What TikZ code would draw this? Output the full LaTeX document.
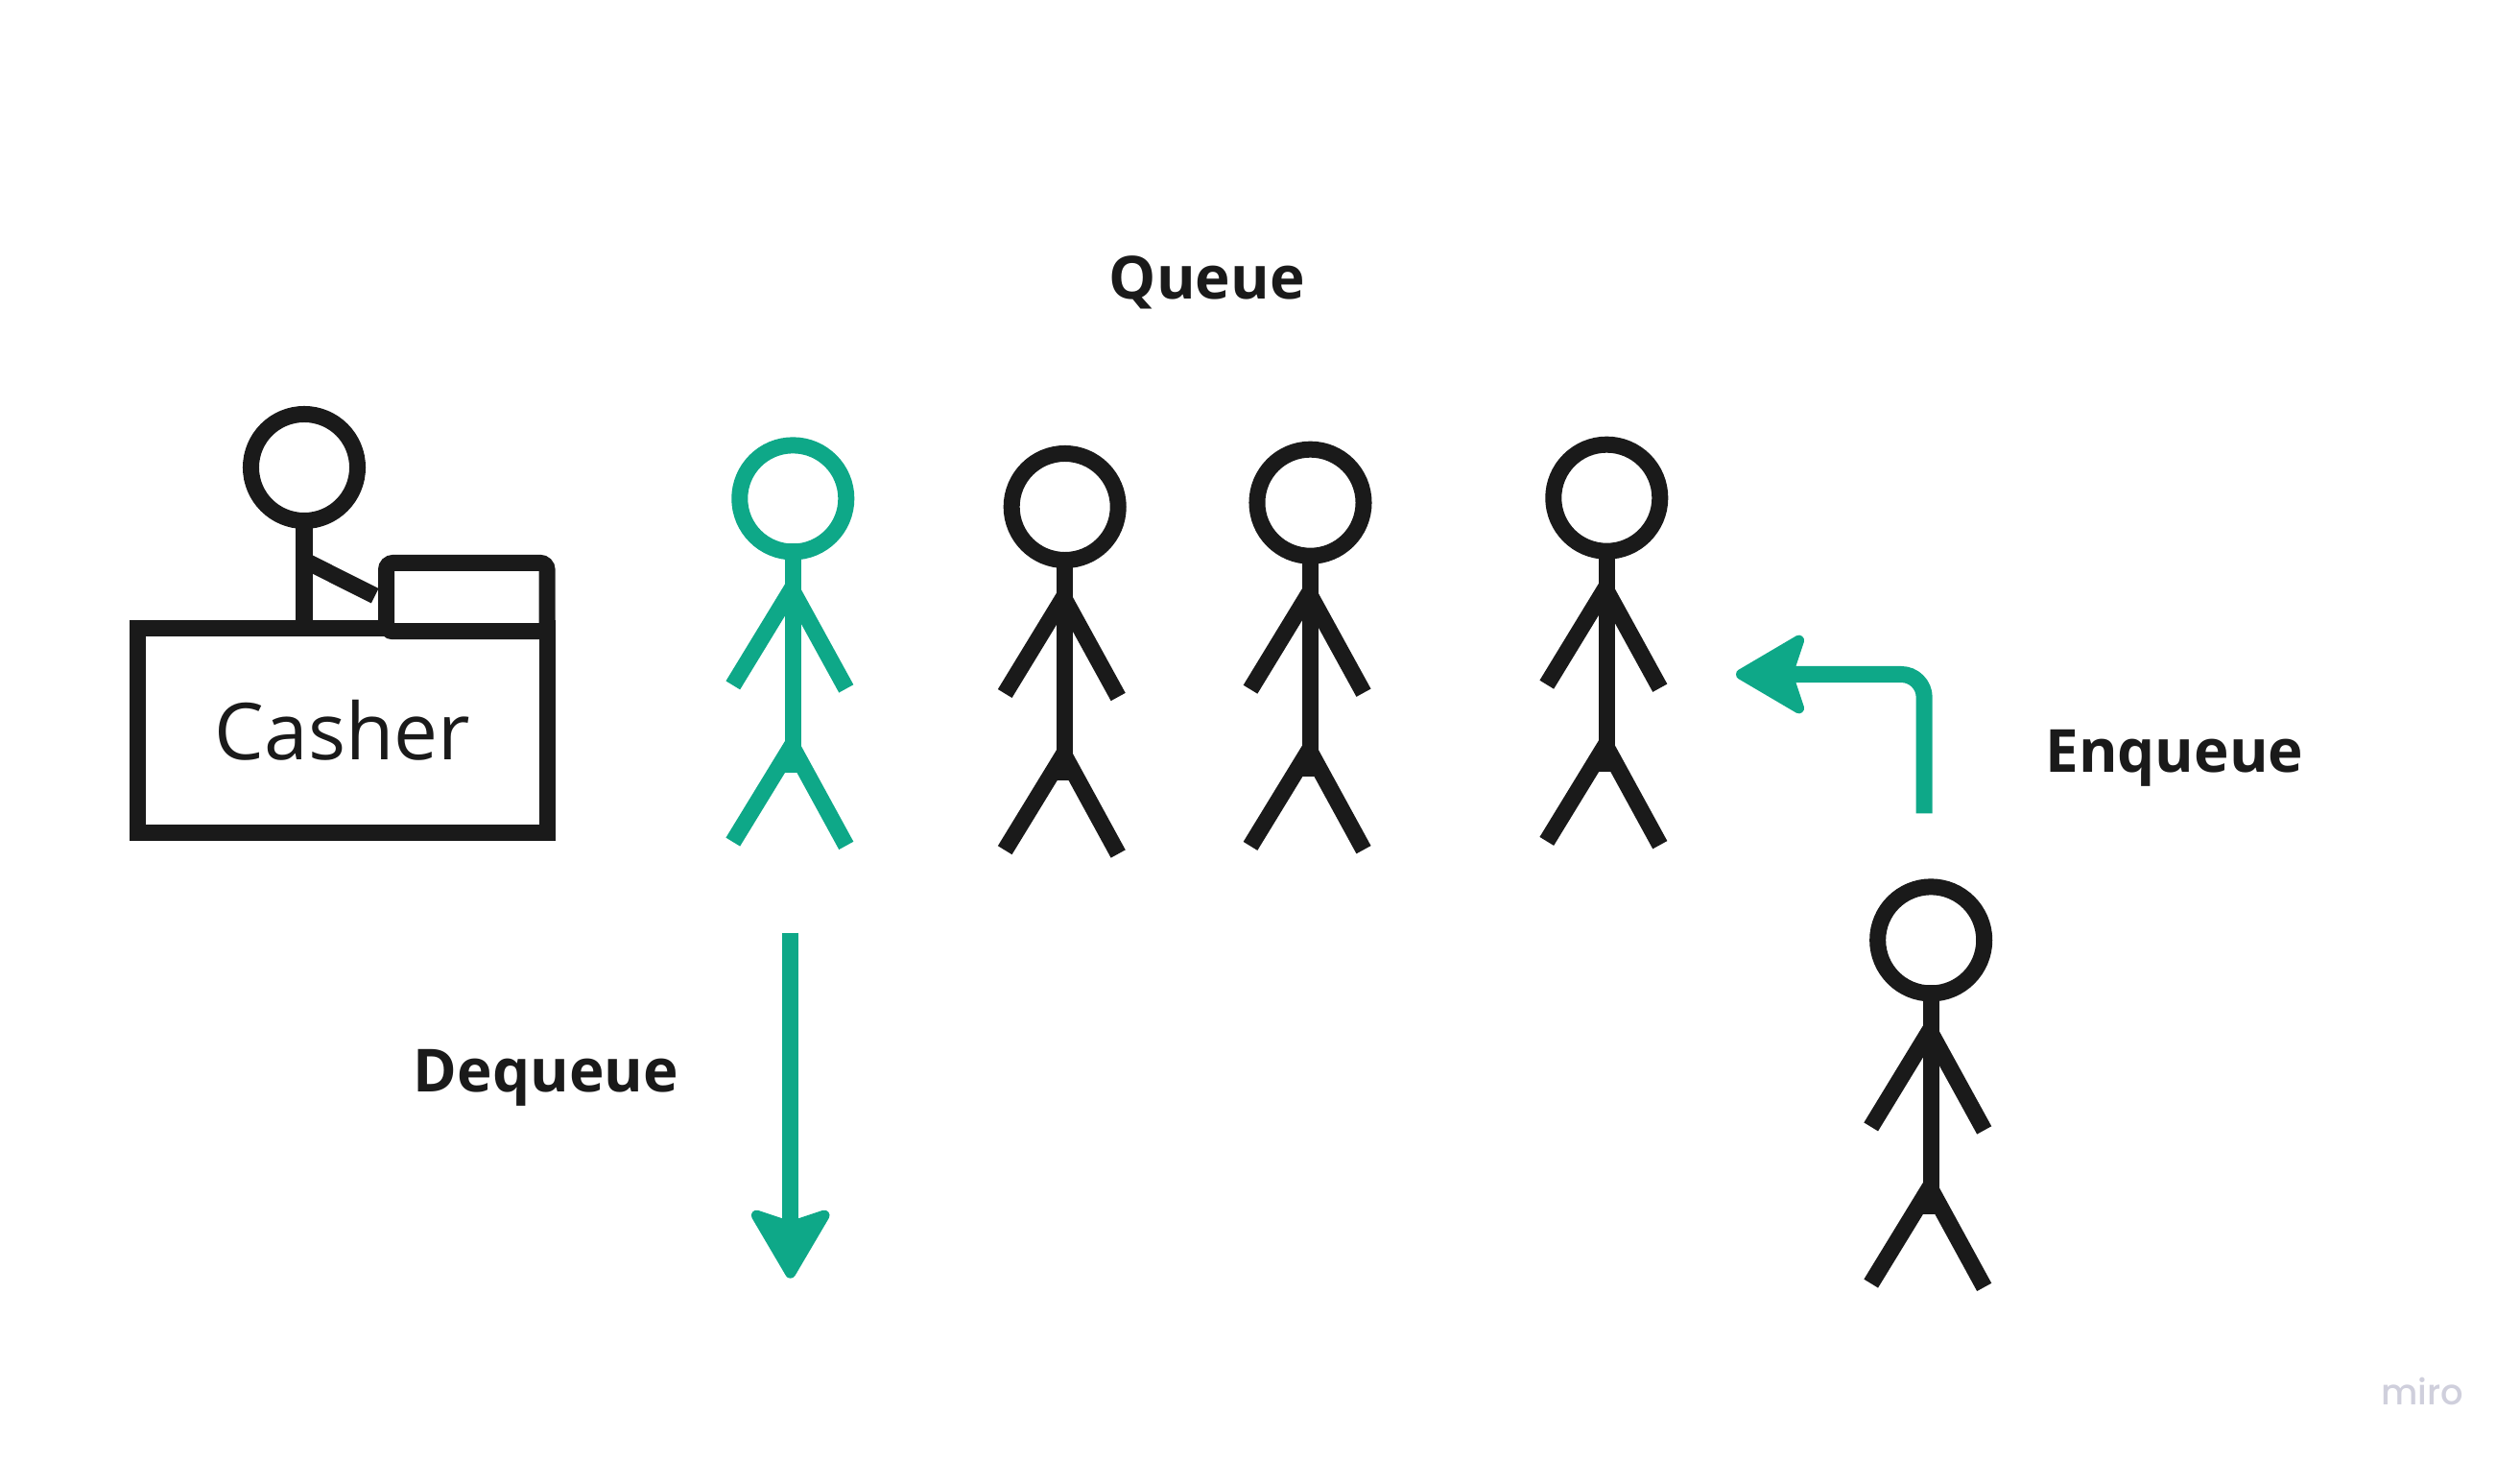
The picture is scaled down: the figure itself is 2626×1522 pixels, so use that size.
\documentclass[tikz,border=0pt]{standalone}
\usepackage{fontspec}
\setmainfont{Open Sans}
\newfontfamily\logofont{Poppins Medium}
\usetikzlibrary{arrows.meta}
\definecolor{ink}{HTML}{1A1A1A}
\definecolor{teal}{HTML}{0EA888}
\definecolor{logo}{HTML}{CFCFDC}
% one person: name, colour, head x, head y
\newcommand{\person}[4]{
  \node[head node, draw=#2] (#1) at (#3,#4) {};
  \coordinate (#1sl) at (#3,#4+92);
  \coordinate (#1sr) at (#3,#4+97);
  \coordinate (#1la) at (#3-62.5,#4+194.5);
  \coordinate (#1ra) at (#3+55.5,#4+198);
  \coordinate (#1hl) at (#3,#4+255.5);
  \coordinate (#1hr) at (#3,#4+260);
  \coordinate (#1b) at (#3,#4+285.4);
  \coordinate (#1ll) at (#3-62.5,#4+357.7);
  \coordinate (#1rl) at (#3+55.5,#4+361.5);
  \path[limb, draw=#2] ([yshift=0.085cm]#1.south) edge (#1b);
  \path[limb, draw=#2] (#1sl) edge (#1la);
  \path[limb, draw=#2] (#1sr) edge (#1ra);
  \path[limb, draw=#2] (#1hl) edge (#1ll);
  \path[limb, draw=#2] (#1hr) edge (#1rl);
}
\begin{document}
\begin{tikzpicture}[x=0.01cm,y=-0.01cm,
  head node/.style={circle,line width=0.17cm,inner sep=0pt,outer sep=0pt,minimum size=1.11cm},
  limb/.style={line width=0.172cm},
  box node/.style={draw=ink,line width=0.17cm,inner sep=0pt,outer sep=0pt},
  title node/.style={font=\fontsize{17.6}{20}\selectfont\bfseries,text=ink,inner sep=0pt,anchor=base},
  move/.style={draw=teal,line width=0.17cm,-{Stealth[length=0.8cm,width=0.93cm,inset=0.15cm,round,line width=0.11cm]}}]
  \useasboundingbox (0,-1.7) rectangle (2626,1520.3);

  % the desk
  \node[head node, draw=ink] (cashier) at (317,485.3) {};
  \node[box node, minimum width=4.26cm, minimum height=2.134cm, text=ink,
    font=\fontsize{23.3}{28}\selectfont] (desk) at (357,759.3) {Casher};
  \node[box node, fill=white, rounded corners=0.07cm, minimum width=1.674cm, minimum height=0.712cm] (till) at (486.3,620.4) {};
  \coordinate (hand) at (390.7,619);
  \coordinate (shoulder) at (317,582);
  \path[limb, draw=ink] ([yshift=0.085cm]cashier.south) edge (cashier |- desk.north);
  \draw[limb, draw=ink] (shoulder) -- (hand);

  % the queue
  \person{front}{teal}{826.3}{517.7}
  \person{second}{ink}{1109.7}{526.3}
  \person{third}{ink}{1365.5}{522}
  \person{fourth}{ink}{1674.3}{517}
  \person{newcomer}{ink}{2012.2}{977.7}

  % labels
  \node[title node] (queue) at (1257.8,309.5) {Queue};
  \node[title node] (dequeue) at (569,1136) {Dequeue};
  \node[title node] (enqueue) at (2265.9,802.5) {Enqueue};
  \node[inner sep=0pt, anchor=base, text=logo, font=\fontsize{10.5}{12}\selectfont\logofont] (brand) at (2524,1462) {miro};

  % arrows
  \coordinate (outstart) at (823.7,970);
  \coordinate (outend) at (823.7,1330);
  \coordinate (instart) at (2005.2,845.6);
  \coordinate (inbend) at (2005.2,700.8);
  \coordinate (inend) at (1809,700.8);
  \draw[move] (outstart) -- (outend);
  \draw[move, rounded corners=0.24cm] (instart) -- (inbend) -- (inend);
\end{tikzpicture}
\end{document}
